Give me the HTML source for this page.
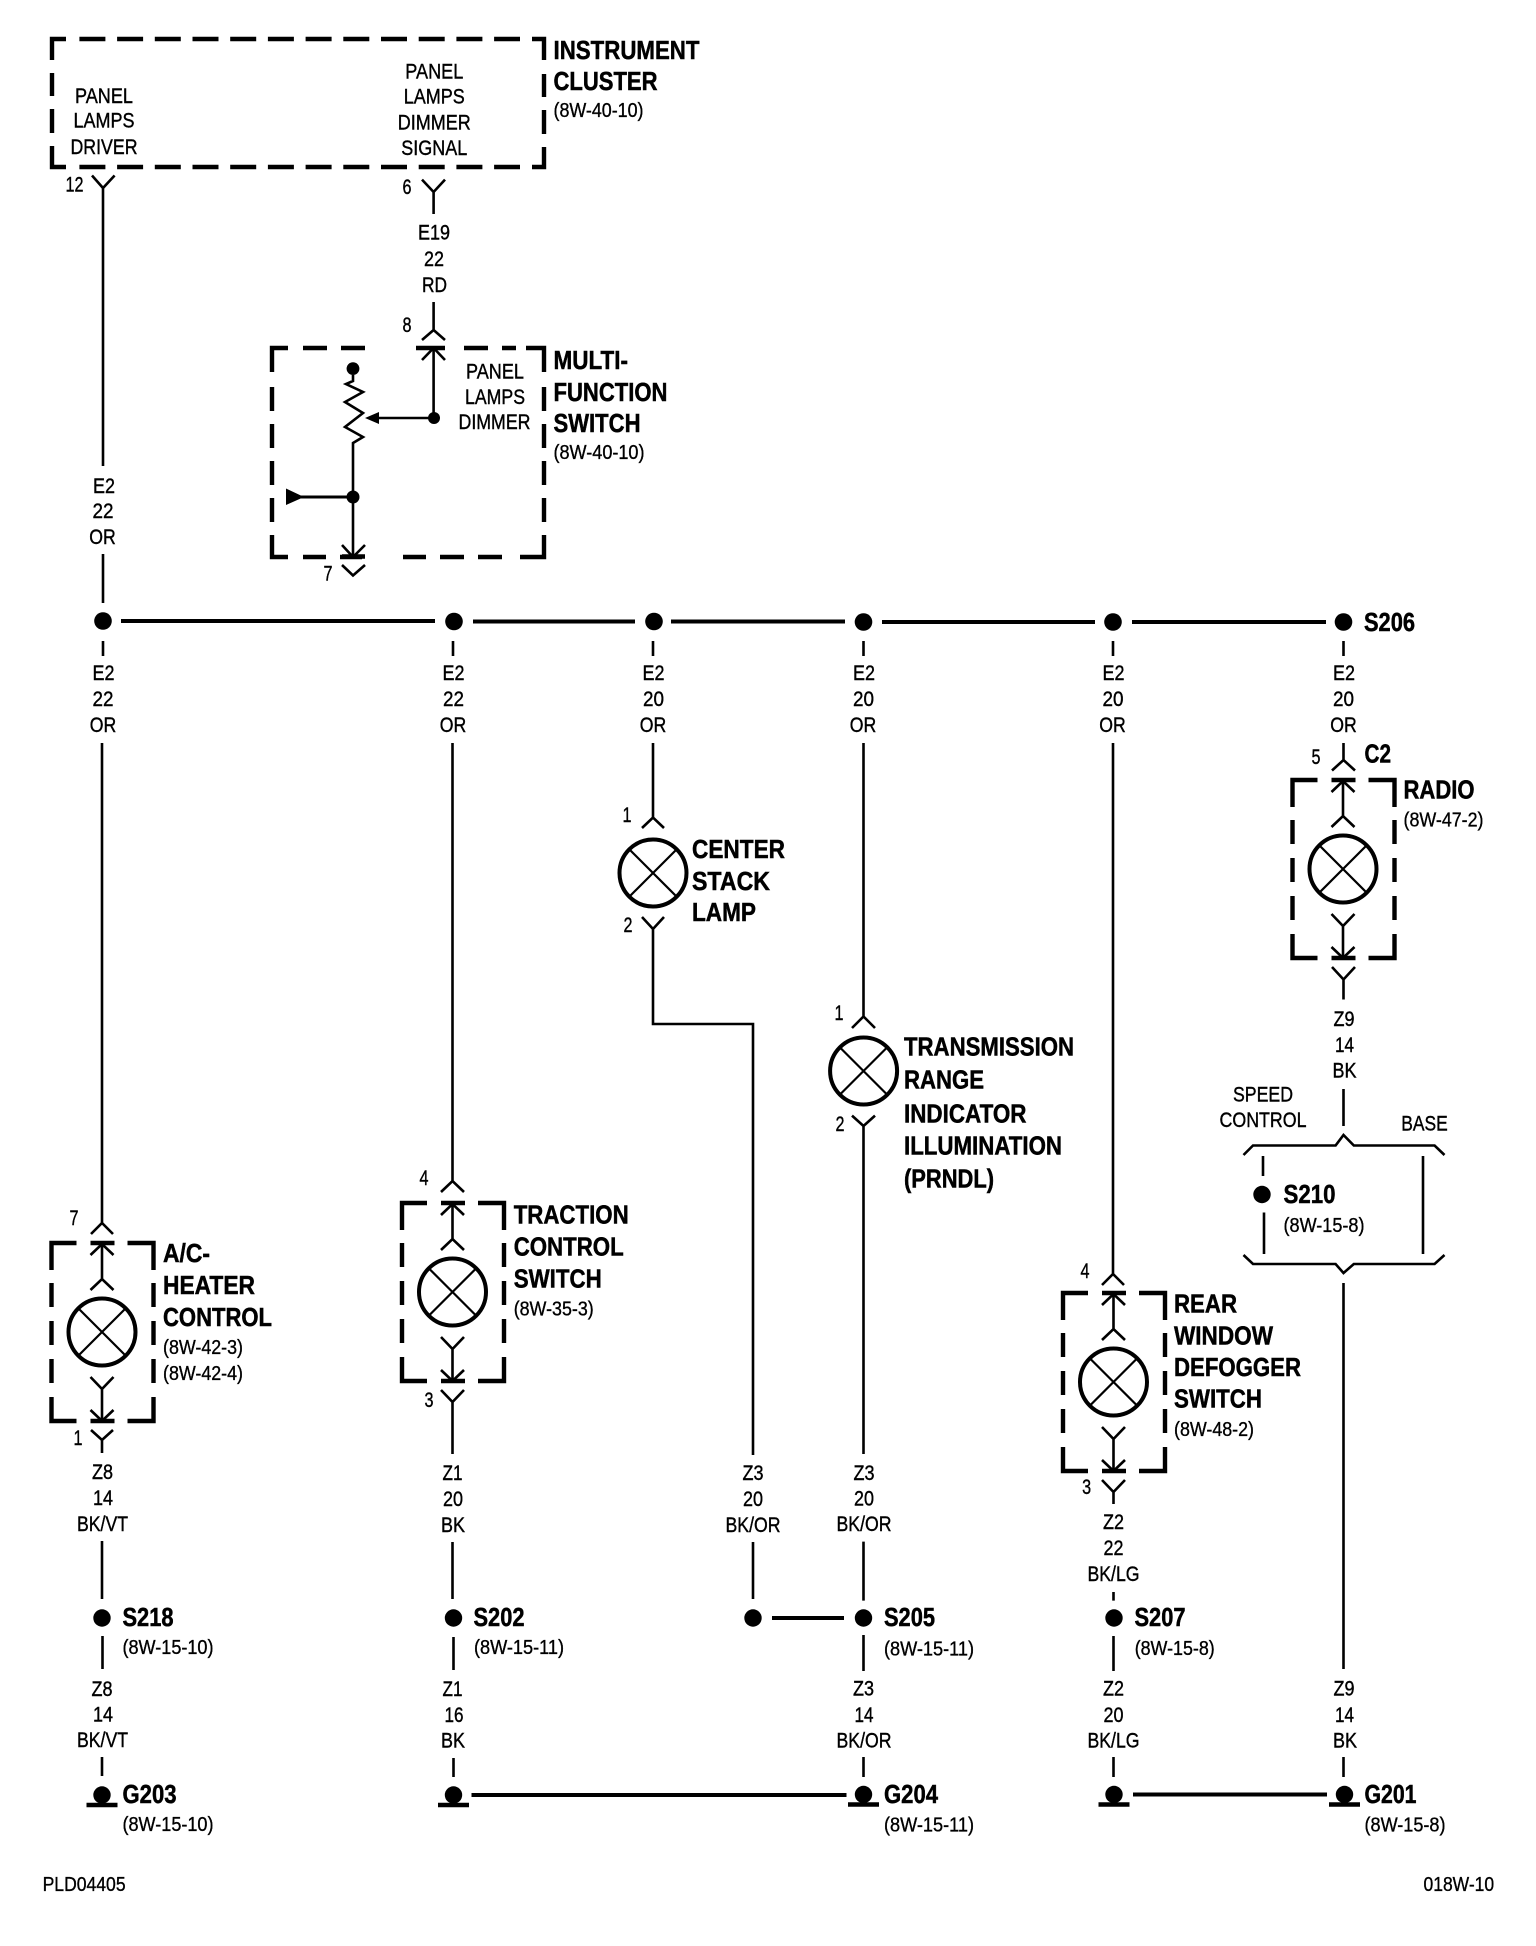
<!DOCTYPE html>
<html><head><meta charset="utf-8">
<style>
html,body{margin:0;padding:0;background:#fff}
svg{display:block}
text{font-family:"Liberation Sans",Arial,sans-serif;fill:#000;dominant-baseline:central}
.n{font-size:21.5px;text-anchor:middle;stroke:#000;stroke-width:.4px}
.b{font-size:26px;font-weight:bold;stroke:#000;stroke-width:.5px}
.r{font-size:20px;stroke:#000;stroke-width:.35px}
.w{fill:none;stroke:#000;stroke-width:2.6}
.t{fill:none;stroke:#000;stroke-width:4}
.d{fill:none;stroke:#000;stroke-width:4.4}
</style></head><body>
<svg xmlns="http://www.w3.org/2000/svg" width="1536" height="1946" viewBox="0 0 1536 1946">
<rect width="1536" height="1946" fill="#fff"/>
<defs>
<g id="lamp">
<path class="d" d="M0,27V0H25M76,0H102V27M0,154V178H25M76,178H102V154"/>
<path class="d" stroke-dasharray="24 14" d="M0,40V154M102,40V154"/>
<path class="d" d="M39,0H63M39,178H63"/>
<path class="w" d="M50.5,0V37M39,47L50.5,36L62,47M39,12L50.5,1L62,12M50.5,146V178M39,134L50.5,146L62,134M39,167L50.5,178L62,167"/>
<circle cx="50.5" cy="89" r="33.5" fill="none" stroke="#000" stroke-width="4"/>
<path d="M27,65.5L74,112.5M74,65.5L27,112.5" stroke="#000" stroke-width="2.2"/>
</g>
<g id="gnd"><circle cx="0" cy="0" r="8.7"/><path d="M-15.5,10H15.5" stroke="#000" stroke-width="4.4"/></g>
</defs>

<!-- instrument cluster -->
<path class="d" d="M52,60V39H66M532,39H544V60M52,146V167H66M544,147V167H532"/>
<path class="d" stroke-dasharray="26 11.7" d="M79.4,39H520M79.4,167H520"/>
<path class="d" d="M52,73V96M52,109V133M544,74V97M544,110V134"/>
<text class="b" x="553.5" y="50" textLength="146" lengthAdjust="spacingAndGlyphs">INSTRUMENT</text>
<text class="b" x="553.5" y="81" textLength="104" lengthAdjust="spacingAndGlyphs">CLUSTER</text>
<text class="r" x="553.5" y="111" textLength="90" lengthAdjust="spacingAndGlyphs">(8W-40-10)</text>
<text class="n" x="104" y="96" textLength="58" lengthAdjust="spacingAndGlyphs">PANEL</text>
<text class="n" x="104" y="120.5" textLength="61" lengthAdjust="spacingAndGlyphs">LAMPS</text>
<text class="n" x="104" y="147" textLength="67" lengthAdjust="spacingAndGlyphs">DRIVER</text>
<text class="n" x="434.3" y="71.4" textLength="58" lengthAdjust="spacingAndGlyphs">PANEL</text>
<text class="n" x="434.3" y="96.7" textLength="61" lengthAdjust="spacingAndGlyphs">LAMPS</text>
<text class="n" x="434.3" y="122.4" textLength="73" lengthAdjust="spacingAndGlyphs">DIMMER</text>
<text class="n" x="434.3" y="147.8" textLength="66" lengthAdjust="spacingAndGlyphs">SIGNAL</text>

<!-- main left wire -->
<path class="w" d="M92,175.5L103,188L114.6,175.5M103,188V466M103,554V603"/>
<text class="n" x="74.5" y="184.5" textLength="18" lengthAdjust="spacingAndGlyphs">12</text>
<text class="n" x="104" y="486" textLength="22" lengthAdjust="spacingAndGlyphs">E2</text>
<text class="n" x="103" y="511" textLength="21" lengthAdjust="spacingAndGlyphs">22</text>
<text class="n" x="102.5" y="537" textLength="26.5" lengthAdjust="spacingAndGlyphs">OR</text>

<!-- E19 -->
<path class="w" d="M422,179.6L433.6,192L445,179.6M433.6,192V214M433.6,302V330M422,340L433.6,330L445,340"/>
<text class="n" x="407" y="187" textLength="9" lengthAdjust="spacingAndGlyphs">6</text>
<text class="n" x="407" y="325" textLength="9" lengthAdjust="spacingAndGlyphs">8</text>
<text class="n" x="434" y="232.6" textLength="32" lengthAdjust="spacingAndGlyphs">E19</text>
<text class="n" x="434" y="259" textLength="20" lengthAdjust="spacingAndGlyphs">22</text>
<text class="n" x="434.5" y="285" textLength="25" lengthAdjust="spacingAndGlyphs">RD</text>

<!-- multi-function switch -->
<path class="d" d="M272,372V348H288M526,348H544V372M272,535V557H288M544,535V557H520"/>
<path class="d" d="M303,348H327M341,348H365M416,348H445M464,348H488M502,348H516M303,557H326M340,557H362M403,557H426M440,557H464M478,557H502"/>
<path class="d" stroke-dasharray="24 13" d="M272,387V535M544,387V535"/>
<path class="d" d="M342,556.5H365"/>
<path class="w" d="M433.6,348V418M422,360L433.6,348L445,360"/>
<path class="w" d="M434,418H372"/>
<path d="M365,418L379,412V424Z"/>
<circle cx="434" cy="418" r="6"/>
<circle cx="353" cy="368.6" r="6.4"/>
<path class="w" d="M353,375V381L346,384L363,392L345,402L363,413L345,427L363,437L353,443V557M342,545L353,557L365,545M342,565L353,575.5L365,565"/>
<circle cx="353" cy="497" r="6.5"/>
<path d="M286,488.5V505L304,497Z"/>
<path class="t" d="M300,497H353" style="stroke-width:3"/>
<text class="n" x="328" y="573.5" textLength="9" lengthAdjust="spacingAndGlyphs">7</text>
<text class="n" x="495" y="371.4" textLength="58" lengthAdjust="spacingAndGlyphs">PANEL</text>
<text class="n" x="495" y="397" textLength="60" lengthAdjust="spacingAndGlyphs">LAMPS</text>
<text class="n" x="494.5" y="422" textLength="72" lengthAdjust="spacingAndGlyphs">DIMMER</text>
<text class="b" x="553.5" y="360" textLength="74.5" lengthAdjust="spacingAndGlyphs">MULTI-</text>
<text class="b" x="553.5" y="392" textLength="114" lengthAdjust="spacingAndGlyphs">FUNCTION</text>
<text class="b" x="553.5" y="423" textLength="87" lengthAdjust="spacingAndGlyphs">SWITCH</text>
<text class="r" x="553.5" y="453" textLength="91" lengthAdjust="spacingAndGlyphs">(8W-40-10)</text>

<!-- junction row -->
<path class="t" d="M121,621H435M473,621.5H635M671,621.5H845M882,622H1095M1132,622H1326"/>
<circle cx="103" cy="621" r="8.8"/><circle cx="454" cy="621.5" r="8.8"/><circle cx="654" cy="621.5" r="8.8"/><circle cx="863.5" cy="622" r="8.8"/><circle cx="1113" cy="622" r="8.8"/><circle cx="1343.5" cy="622" r="8.8"/>
<text class="b" x="1364" y="622" textLength="51" lengthAdjust="spacingAndGlyphs">S206</text>

<path class="w" d="M103,641V656M453,641V656M653,641V656M863.5,641V656M1113,641V656M1343.5,641V656"/>
<!-- E2 labels -->
<text class="n" x="103.5" y="673" textLength="22" lengthAdjust="spacingAndGlyphs">E2</text><text class="n" x="103" y="699" textLength="21" lengthAdjust="spacingAndGlyphs">22</text><text class="n" x="103" y="725" textLength="26.5" lengthAdjust="spacingAndGlyphs">OR</text>
<text class="n" x="453.5" y="673" textLength="22" lengthAdjust="spacingAndGlyphs">E2</text><text class="n" x="453.5" y="699" textLength="21" lengthAdjust="spacingAndGlyphs">22</text><text class="n" x="453" y="725" textLength="26.5" lengthAdjust="spacingAndGlyphs">OR</text>
<text class="n" x="653.5" y="673" textLength="22" lengthAdjust="spacingAndGlyphs">E2</text><text class="n" x="653.5" y="699" textLength="21" lengthAdjust="spacingAndGlyphs">20</text><text class="n" x="653" y="725" textLength="26.5" lengthAdjust="spacingAndGlyphs">OR</text>
<text class="n" x="864" y="673" textLength="22" lengthAdjust="spacingAndGlyphs">E2</text><text class="n" x="863.5" y="699" textLength="21" lengthAdjust="spacingAndGlyphs">20</text><text class="n" x="863" y="725" textLength="26.5" lengthAdjust="spacingAndGlyphs">OR</text>
<text class="n" x="1113.5" y="673" textLength="22" lengthAdjust="spacingAndGlyphs">E2</text><text class="n" x="1113" y="699" textLength="21" lengthAdjust="spacingAndGlyphs">20</text><text class="n" x="1112.5" y="725" textLength="26.5" lengthAdjust="spacingAndGlyphs">OR</text>
<text class="n" x="1344" y="673" textLength="22" lengthAdjust="spacingAndGlyphs">E2</text><text class="n" x="1343.5" y="699" textLength="21" lengthAdjust="spacingAndGlyphs">20</text><text class="n" x="1343.5" y="725" textLength="26.5" lengthAdjust="spacingAndGlyphs">OR</text>

<!-- A/C column -->
<path class="w" d="M102,743V1223M91,1234L102,1223L113,1234"/>
<text class="n" x="74" y="1218" textLength="9" lengthAdjust="spacingAndGlyphs">7</text>
<use href="#lamp" x="51.5" y="1243"/>
<text class="b" x="163" y="1253" textLength="47" lengthAdjust="spacingAndGlyphs">A/C-</text>
<text class="b" x="163" y="1285" textLength="92" lengthAdjust="spacingAndGlyphs">HEATER</text>
<text class="b" x="163" y="1317" textLength="109" lengthAdjust="spacingAndGlyphs">CONTROL</text>
<text class="r" x="163" y="1348" textLength="80" lengthAdjust="spacingAndGlyphs">(8W-42-3)</text>
<text class="r" x="163" y="1374" textLength="80" lengthAdjust="spacingAndGlyphs">(8W-42-4)</text>
<path class="w" d="M91,1430L102,1440L113,1430M102,1440V1453M102,1541V1599M102.5,1636V1669M102,1757V1776"/>
<text class="n" x="78" y="1438" textLength="9" lengthAdjust="spacingAndGlyphs">1</text>
<text class="n" x="102.5" y="1472" textLength="21" lengthAdjust="spacingAndGlyphs">Z8</text><text class="n" x="103" y="1498" textLength="20" lengthAdjust="spacingAndGlyphs">14</text><text class="n" x="102.5" y="1524" textLength="51" lengthAdjust="spacingAndGlyphs">BK/VT</text>
<circle cx="102" cy="1618" r="8.7"/>
<text class="b" x="122.5" y="1617" textLength="51" lengthAdjust="spacingAndGlyphs">S218</text>
<text class="r" x="122.5" y="1648" textLength="91" lengthAdjust="spacingAndGlyphs">(8W-15-10)</text>
<text class="n" x="102" y="1689" textLength="21" lengthAdjust="spacingAndGlyphs">Z8</text><text class="n" x="103" y="1714.5" textLength="20" lengthAdjust="spacingAndGlyphs">14</text><text class="n" x="102.5" y="1740" textLength="51" lengthAdjust="spacingAndGlyphs">BK/VT</text>
<use href="#gnd" x="102" y="1795"/>
<text class="b" x="122.5" y="1794" textLength="54" lengthAdjust="spacingAndGlyphs">G203</text>
<text class="r" x="122.5" y="1825" textLength="91" lengthAdjust="spacingAndGlyphs">(8W-15-10)</text>
<text class="r" x="42.6" y="1885" textLength="83" lengthAdjust="spacingAndGlyphs">PLD04405</text>

<!-- Traction column -->
<path class="w" d="M452.5,743V1181M441,1192L452.5,1181L464,1192"/>
<text class="n" x="424" y="1178" textLength="9" lengthAdjust="spacingAndGlyphs">4</text>
<use href="#lamp" x="402" y="1203"/>
<text class="b" x="513.7" y="1214.5" textLength="115" lengthAdjust="spacingAndGlyphs">TRACTION</text>
<text class="b" x="513.7" y="1246.5" textLength="110" lengthAdjust="spacingAndGlyphs">CONTROL</text>
<text class="b" x="513.7" y="1278.5" textLength="88" lengthAdjust="spacingAndGlyphs">SWITCH</text>
<text class="r" x="513.7" y="1309.5" textLength="80" lengthAdjust="spacingAndGlyphs">(8W-35-3)</text>
<path class="w" d="M441,1390L452.5,1402L464,1390M452.5,1402V1454M452.5,1542V1599M453.5,1637V1670M453.5,1758V1777"/>
<text class="n" x="429" y="1400" textLength="9" lengthAdjust="spacingAndGlyphs">3</text>
<text class="n" x="452.5" y="1473" textLength="20" lengthAdjust="spacingAndGlyphs">Z1</text><text class="n" x="453" y="1499" textLength="20" lengthAdjust="spacingAndGlyphs">20</text><text class="n" x="453" y="1525" textLength="24" lengthAdjust="spacingAndGlyphs">BK</text>
<circle cx="453.5" cy="1618" r="8.7"/>
<text class="b" x="473.5" y="1617" textLength="51" lengthAdjust="spacingAndGlyphs">S202</text>
<text class="r" x="474" y="1648" textLength="90" lengthAdjust="spacingAndGlyphs">(8W-15-11)</text>
<text class="n" x="452.5" y="1689" textLength="20" lengthAdjust="spacingAndGlyphs">Z1</text><text class="n" x="454" y="1715" textLength="19" lengthAdjust="spacingAndGlyphs">16</text><text class="n" x="453" y="1740.5" textLength="24" lengthAdjust="spacingAndGlyphs">BK</text>
<use href="#gnd" x="453.5" y="1795"/>
<path class="t" d="M471.5,1795H846.5"/>

<!-- Center stack lamp -->
<path class="w" d="M653,743V817.5M642,828L653,817.5L664,828M642,917L653,929L664,917M653,929V1024H753V1455M753,1542V1599"/>
<text class="n" x="627" y="815" textLength="9" lengthAdjust="spacingAndGlyphs">1</text>
<text class="n" x="628" y="925" textLength="9" lengthAdjust="spacingAndGlyphs">2</text>
<circle cx="653" cy="873" r="33.5" fill="none" stroke="#000" stroke-width="4"/>
<path d="M629.5,849.5L676.5,896.5M676.5,849.5L629.5,896.5" stroke="#000" stroke-width="2.2"/>
<text class="b" x="692" y="849" textLength="93" lengthAdjust="spacingAndGlyphs">CENTER</text>
<text class="b" x="692" y="881" textLength="78" lengthAdjust="spacingAndGlyphs">STACK</text>
<text class="b" x="692" y="912" textLength="64" lengthAdjust="spacingAndGlyphs">LAMP</text>
<text class="n" x="753" y="1473" textLength="21" lengthAdjust="spacingAndGlyphs">Z3</text><text class="n" x="753" y="1499" textLength="20" lengthAdjust="spacingAndGlyphs">20</text><text class="n" x="753" y="1525" textLength="55" lengthAdjust="spacingAndGlyphs">BK/OR</text>
<circle cx="753" cy="1618" r="8.7"/>
<path class="t" d="M772,1618H844"/>

<!-- PRNDL column -->
<path class="w" d="M863.5,743V1016.5M852,1028L863.5,1016.5L875,1028M852,1115.6L863.5,1126L875,1115.6M863.5,1126V1454M863.5,1541.6V1600.6M863.5,1635V1671M863.5,1757V1777"/>
<text class="n" x="839" y="1013" textLength="9" lengthAdjust="spacingAndGlyphs">1</text>
<text class="n" x="840" y="1124" textLength="9" lengthAdjust="spacingAndGlyphs">2</text>
<circle cx="863.6" cy="1071" r="33.5" fill="none" stroke="#000" stroke-width="4"/>
<path d="M840,1047.5L887,1094.5M887,1047.5L840,1094.5" stroke="#000" stroke-width="2.2"/>
<text class="b" x="904" y="1046.5" textLength="170" lengthAdjust="spacingAndGlyphs">TRANSMISSION</text>
<text class="b" x="904" y="1079.5" textLength="80" lengthAdjust="spacingAndGlyphs">RANGE</text>
<text class="b" x="904" y="1113.5" textLength="122.5" lengthAdjust="spacingAndGlyphs">INDICATOR</text>
<text class="b" x="904" y="1145.5" textLength="158" lengthAdjust="spacingAndGlyphs">ILLUMINATION</text>
<text class="b" x="904" y="1178.5" textLength="90" lengthAdjust="spacingAndGlyphs">(PRNDL)</text>
<text class="n" x="864" y="1473" textLength="21" lengthAdjust="spacingAndGlyphs">Z3</text><text class="n" x="864" y="1498.6" textLength="20" lengthAdjust="spacingAndGlyphs">20</text><text class="n" x="864" y="1524" textLength="55" lengthAdjust="spacingAndGlyphs">BK/OR</text>
<circle cx="863.5" cy="1618" r="8.7"/>
<text class="b" x="884" y="1617" textLength="51" lengthAdjust="spacingAndGlyphs">S205</text>
<text class="r" x="884" y="1649.5" textLength="90" lengthAdjust="spacingAndGlyphs">(8W-15-11)</text>
<text class="n" x="863.5" y="1688.5" textLength="21" lengthAdjust="spacingAndGlyphs">Z3</text><text class="n" x="864" y="1715" textLength="19" lengthAdjust="spacingAndGlyphs">14</text><text class="n" x="864" y="1740.5" textLength="55" lengthAdjust="spacingAndGlyphs">BK/OR</text>
<use href="#gnd" x="863.5" y="1794.5"/>
<text class="b" x="884" y="1794" textLength="54" lengthAdjust="spacingAndGlyphs">G204</text>
<text class="r" x="884" y="1825.7" textLength="90" lengthAdjust="spacingAndGlyphs">(8W-15-11)</text>

<!-- Rear window column -->
<path class="w" d="M1113,743V1274M1102,1285L1113,1274L1124,1285"/>
<text class="n" x="1085" y="1271" textLength="9" lengthAdjust="spacingAndGlyphs">4</text>
<use href="#lamp" x="1063" y="1293"/>
<text class="b" x="1174" y="1303.5" textLength="63" lengthAdjust="spacingAndGlyphs">REAR</text>
<text class="b" x="1174" y="1335.5" textLength="99" lengthAdjust="spacingAndGlyphs">WINDOW</text>
<text class="b" x="1174" y="1367" textLength="127" lengthAdjust="spacingAndGlyphs">DEFOGGER</text>
<text class="b" x="1174" y="1398.5" textLength="88" lengthAdjust="spacingAndGlyphs">SWITCH</text>
<text class="r" x="1174" y="1430" textLength="80" lengthAdjust="spacingAndGlyphs">(8W-48-2)</text>
<path class="w" d="M1102,1480L1113.5,1492L1125,1480M1113.5,1492V1504M1113.5,1592V1600.6M1113.5,1636V1671M1113.5,1757V1777"/>
<text class="n" x="1086.6" y="1487" textLength="9" lengthAdjust="spacingAndGlyphs">3</text>
<text class="n" x="1113.5" y="1522" textLength="21" lengthAdjust="spacingAndGlyphs">Z2</text><text class="n" x="1113.5" y="1548" textLength="20" lengthAdjust="spacingAndGlyphs">22</text><text class="n" x="1113.5" y="1574" textLength="52" lengthAdjust="spacingAndGlyphs">BK/LG</text>
<circle cx="1114" cy="1618" r="8.7"/>
<text class="b" x="1134.5" y="1617" textLength="51" lengthAdjust="spacingAndGlyphs">S207</text>
<text class="r" x="1134.7" y="1649" textLength="80" lengthAdjust="spacingAndGlyphs">(8W-15-8)</text>
<text class="n" x="1113.5" y="1688.5" textLength="21" lengthAdjust="spacingAndGlyphs">Z2</text><text class="n" x="1113.5" y="1715" textLength="20" lengthAdjust="spacingAndGlyphs">20</text><text class="n" x="1113.5" y="1740.5" textLength="52" lengthAdjust="spacingAndGlyphs">BK/LG</text>
<use href="#gnd" x="1114" y="1794.5"/>
<path class="t" d="M1133,1794.5H1327"/>

<!-- Radio column -->
<path class="w" d="M1343.5,743V760M1332,770.5L1343.5,760L1355,770.5"/>
<text class="n" x="1316" y="757" textLength="9" lengthAdjust="spacingAndGlyphs">5</text>
<text class="b" x="1364.5" y="753.5" textLength="26.5" lengthAdjust="spacingAndGlyphs">C2</text>
<use href="#lamp" x="1292.5" y="780"/>
<text class="b" x="1403.5" y="789.5" textLength="71" lengthAdjust="spacingAndGlyphs">RADIO</text>
<text class="r" x="1403.5" y="820.5" textLength="80" lengthAdjust="spacingAndGlyphs">(8W-47-2)</text>
<path class="w" d="M1332,967L1343.5,979.5L1355,967M1343.5,979.5V999.5M1343.5,1089V1126"/>
<text class="n" x="1344" y="1019" textLength="21" lengthAdjust="spacingAndGlyphs">Z9</text><text class="n" x="1344.5" y="1045" textLength="19" lengthAdjust="spacingAndGlyphs">14</text><text class="n" x="1344.5" y="1070.5" textLength="24" lengthAdjust="spacingAndGlyphs">BK</text>
<text class="n" x="1263" y="1094.6" textLength="60" lengthAdjust="spacingAndGlyphs">SPEED</text>
<text class="n" x="1263" y="1120" textLength="87" lengthAdjust="spacingAndGlyphs">CONTROL</text>
<text class="n" x="1424.5" y="1123.6" textLength="46.5" lengthAdjust="spacingAndGlyphs">BASE</text>
<path class="w" d="M1243.5,1155L1253,1145.5H1335.6L1343.5,1135L1353.8,1145.5H1434.6L1444.5,1155"/>
<path class="w" d="M1243.5,1255L1253,1264H1335.6L1343.5,1273L1353.8,1264H1434.6L1444.5,1255"/>
<path class="w" d="M1263,1156V1176M1264,1212.5V1254M1423,1156V1254M1343.5,1283V1669M1343.5,1757V1777"/>
<circle cx="1262" cy="1194.5" r="8.7"/>
<text class="b" x="1283.5" y="1194" textLength="52" lengthAdjust="spacingAndGlyphs">S210</text>
<text class="r" x="1283.5" y="1226" textLength="81" lengthAdjust="spacingAndGlyphs">(8W-15-8)</text>
<text class="n" x="1344" y="1688.5" textLength="21" lengthAdjust="spacingAndGlyphs">Z9</text><text class="n" x="1344.5" y="1715" textLength="19" lengthAdjust="spacingAndGlyphs">14</text><text class="n" x="1345" y="1740.5" textLength="24" lengthAdjust="spacingAndGlyphs">BK</text>
<use href="#gnd" x="1344.5" y="1794.5"/>
<text class="b" x="1364.5" y="1794" textLength="52" lengthAdjust="spacingAndGlyphs">G201</text>
<text class="r" x="1364.5" y="1825.7" textLength="81" lengthAdjust="spacingAndGlyphs">(8W-15-8)</text>
<text class="r" x="1423.5" y="1885" textLength="70.6" lengthAdjust="spacingAndGlyphs">018W-10</text>
</svg>
</body></html>
